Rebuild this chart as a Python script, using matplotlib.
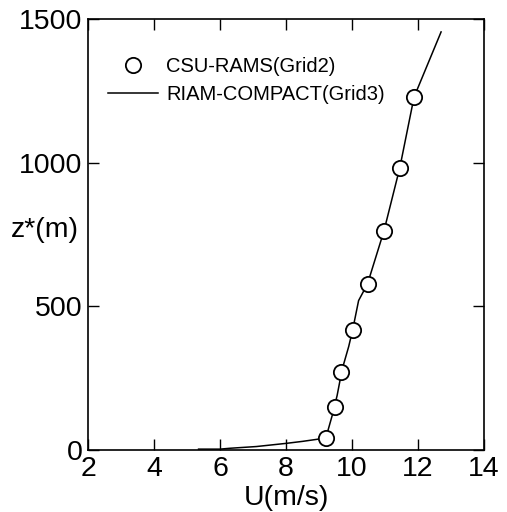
import matplotlib
matplotlib.use("Agg")
import matplotlib.pyplot as plt

plt.rcParams["font.family"] = ["Liberation Sans", "DejaVu Sans"]

# CSU-RAMS (Grid2) points
rams_u = [9.21, 9.50, 9.68, 10.02, 10.47, 10.97, 11.45, 11.88]
rams_z = [43, 151, 273, 418, 578, 763, 983, 1228]

# RIAM-COMPACT (Grid3) profile
riam_u = [5.35, 6.0, 6.3, 7.1, 8.0, 8.5, 8.93, 9.21, 9.40, 9.55, 9.70,
          9.90, 10.02, 10.20, 10.47, 10.97, 11.45, 11.88, 12.70]
riam_z = [3, 3, 6, 12, 23, 30, 37, 43, 120, 190, 280,
          360, 418, 520, 578, 763, 983, 1228, 1455]

x_ticks = [2, 4, 6, 8, 10, 12, 14]
y_ticks = [0, 500, 1000, 1500]

fig = plt.figure(figsize=(5.07, 5.12), dpi=100)
ax = fig.add_axes([0.1736, 0.1211, 0.781, 0.8418])

ax.plot(riam_u, riam_z, "-", color="black", linewidth=1.1, label="RIAM-COMPACT(Grid3)")
ax.plot(rams_u, rams_z, "o", color="black", markerfacecolor="white",
        markeredgewidth=1.3, markersize=11, linestyle="none", label="CSU-RAMS(Grid2)")

ax.set_xlim(2, 14)
ax.set_ylim(0, 1500)
ax.set_xticks(x_ticks)
ax.set_yticks(y_ticks)
ax.tick_params(direction="in", length=8, width=1, top=True, right=True,
               labelsize=20.5, pad=4)
for s in ax.spines.values():
    s.set_linewidth(1.2)

ax.set_xlabel("U(m/s)", fontsize=20.5, labelpad=2.5)
ax.text(-0.108, 0.51, "z*(m)", transform=ax.transAxes, fontsize=20.5,
        ha="center", va="center")

handles, labels = ax.get_legend_handles_labels()
ax.legend(handles[::-1], labels[::-1], loc="upper left", bbox_to_anchor=(0.02, 0.94),
          frameon=False, fontsize=14.5, handlelength=2.5, handletextpad=0.4,
          labelspacing=0.45, borderaxespad=0.2)

fig.savefig("out.png", dpi=100)
